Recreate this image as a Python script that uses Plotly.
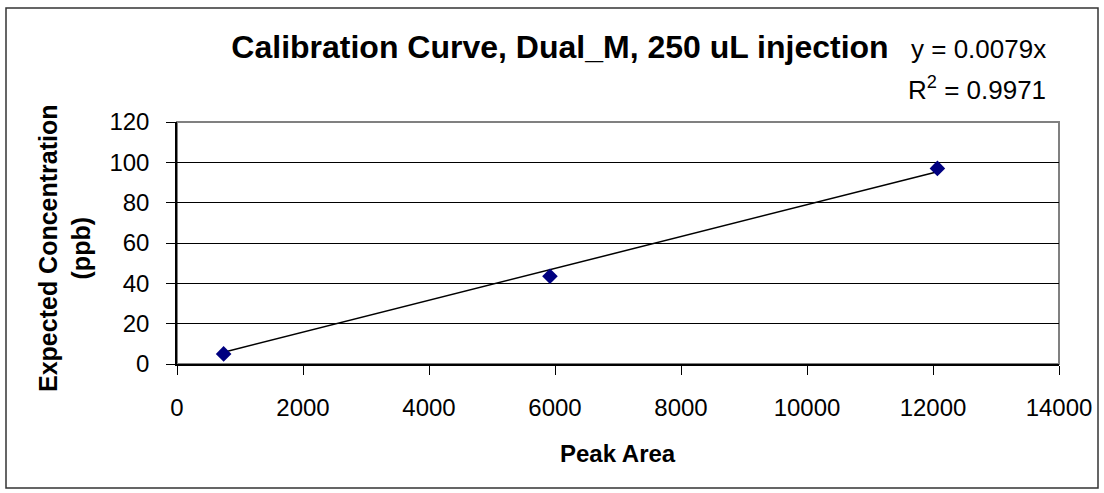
import numpy as np
import plotly.graph_objects as go

# Data
peak_area = [740, 5920, 12070]
expected_conc = [5, 43.5, 97]

x_ticks = [0, 2000, 4000, 6000, 8000, 10000, 12000, 14000]
y_ticks = [0, 20, 40, 60, 80, 100, 120]

title_text = "Calibration Curve, Dual_M, 250 uL injection"
x_title = "Peak Area"
y_title = "Expected Concentration<br>(ppb)"
eq_label = "y = 0.0079x"
r2_label = "R<sup>2</sup> = 0.9971"

# Zero-intercept linear trendline
xa = np.array(peak_area, dtype=float)
ya = np.array(expected_conc, dtype=float)
slope = float((xa * ya).sum() / (xa * xa).sum())
trend_x = [xa.min(), xa.max()]
trend_y = [slope * v for v in trend_x]

FONT = "Liberation Sans, Arial, sans-serif"

W, H = 1104, 493
L, R, T, B = 177, 1059, 122, 364
pw, ph = R - L, B - T


def px_x(p):
    return (p - L) / pw


def px_y(p):
    return (B - p) / ph


fig = go.Figure()
fig.add_trace(go.Scatter(
    x=trend_x, y=trend_y, mode="lines",
    line=dict(color="black", width=1.5), showlegend=False, hoverinfo="skip"))
fig.add_trace(go.Scatter(
    x=peak_area, y=expected_conc, mode="markers",
    marker=dict(symbol="diamond", size=12, color="#000080",
                line=dict(width=0)),
    showlegend=False))

fig.update_layout(
    width=W, height=H,
    margin=dict(l=L, r=W - R, t=T, b=H - B, pad=0),
    paper_bgcolor="white", plot_bgcolor="white",
    font=dict(family=FONT, color="black", size=24),
    title=dict(text="<b>" + title_text + "</b>", x=560 / W, xanchor="center",
               y=1 - 47 / H, yanchor="middle", yref="container",
               font=dict(size=32, family=FONT, color="black")),
    xaxis=dict(range=[0, 14000], tickvals=x_ticks,
               ticktext=[str(v) for v in x_ticks],
               showgrid=False, zeroline=False,
               showline=True, linecolor="black", linewidth=1.5,
               ticks="outside", ticklen=9, tickcolor="black", tickwidth=1,
               tickfont=dict(size=24, family=FONT, color="black"),
               ticklabelstandoff=12),
    yaxis=dict(range=[0, 120], tickvals=y_ticks,
               ticktext=[str(v) for v in y_ticks],
               showgrid=True, gridcolor="black", gridwidth=1,
               zeroline=False,
               showline=True, linecolor="black", linewidth=1.5,
               ticks="outside", ticklen=9, tickcolor="black", tickwidth=1,
               tickfont=dict(size=24, family=FONT, color="black"),
               ticklabelstandoff=12),
    shapes=[
        dict(type="rect", xref="paper", yref="paper", x0=0, x1=1, y0=0, y1=1,
             line=dict(color="#808080", width=2), layer="below"),
        dict(type="rect", xref="paper", yref="paper",
             x0=px_x(6), x1=px_x(1098), y0=px_y(488), y1=px_y(8),
             line=dict(color="#333333", width=1.5), layer="below"),
    ],
    annotations=[
        dict(text=eq_label, xref="paper", yref="paper", x=px_x(1048),
             y=px_y(49), xanchor="right", yanchor="middle", showarrow=False,
             font=dict(size=26, family=FONT, color="black")),
        dict(text=r2_label, xref="paper", yref="paper", x=px_x(1048),
             y=px_y(88), xanchor="right", yanchor="middle", showarrow=False,
             font=dict(size=26, family=FONT, color="black")),
        dict(text="<b>" + x_title + "</b>", xref="paper", yref="paper",
             x=0.5, y=px_y(453), xanchor="center", yanchor="middle",
             showarrow=False, font=dict(size=24, family=FONT, color="black")),
        dict(text="<b>" + y_title + "</b>", xref="paper", yref="paper",
             x=px_x(64), y=px_y(248), xanchor="center", yanchor="middle",
             textangle=-90, showarrow=False,
             font=dict(size=25, family=FONT, color="black")),
    ],
)

fig.write_html("out.html",
               config={"displayModeBar": False},
               post_script="document.body.style.margin='0';"
                           "document.body.style.padding='0';")
